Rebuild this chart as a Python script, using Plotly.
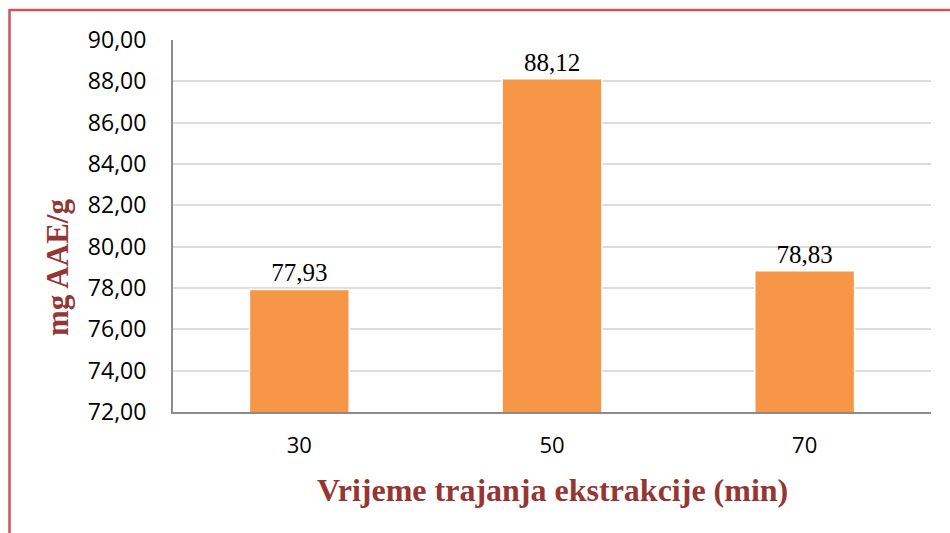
import plotly.graph_objects as go

categories = ["30", "50", "70"]
values = [77.93, 88.12, 78.83]
value_labels = ["77,93", "88,12", "78,83"]
y_ticks = [72, 74, 76, 78, 80, 82, 84, 86, 88, 90]

W, H = 950, 533
# plot area in page pixels
PL, PR, PT, PB = 173, 931, 40, 412
L, R, T, B = PL, W - PR, PT, H - PB
pw, ph = PR - PL, PB - PT

def px_x(x):
    return (x - PL) / pw

def px_y(y):
    return (PB - y) / ph

fig = go.Figure()
fig.add_trace(go.Bar(
    x=categories, y=values,
    marker=dict(color="#F79646", line=dict(color="#FFFFFF", width=1.5)),
    width=0.395,
    text=value_labels, textposition="outside",
    textfont=dict(family="Liberation Serif, Times New Roman, serif", size=25, color="#000000"),
    cliponaxis=False,
))

fig.update_layout(
    width=W, height=H,
    margin=dict(l=L, r=R, t=T, b=B),
    paper_bgcolor="white", plot_bgcolor="white",
    separators=",.",
    showlegend=False,
    xaxis=dict(
        type="category",
        showline=True, linecolor="#8C8C8C", linewidth=2,
        ticks="", showgrid=False,
        tickfont=dict(family="Open Sans, sans-serif", size=22, color="#000000"),
        ticklabelstandoff=13,
    ),
    yaxis=dict(
        range=[72, 90], tickvals=y_ticks, tickformat=".2f",
        showline=True, linecolor="#8C8C8C", linewidth=2,
        showgrid=True, gridcolor="#DCDCDC", gridwidth=1.5,
        ticks="", zeroline=False,
        tickfont=dict(family="Open Sans, sans-serif", size=23, color="#000000"),
        ticklabelstandoff=20,
    ),
    annotations=[
        dict(text="<b>Vrijeme trajanja ekstrakcije (min)</b>", xref="paper", yref="paper",
             x=px_x(552), y=px_y(490), showarrow=False, xanchor="center", yanchor="middle",
             font=dict(family="Liberation Serif, Times New Roman, serif", size=32, color="#943634")),
        dict(text="<b>mg AAE/g</b>", xref="paper", yref="paper", textangle=-90,
             x=px_x(57), y=px_y(268), showarrow=False, xanchor="center", yanchor="middle",
             font=dict(family="Liberation Serif, Times New Roman, serif", size=31, color="#943634")),
    ],
    shapes=[
        dict(type="line", xref="paper", yref="paper", x0=px_x(9), x1=px_x(960),
             y0=px_y(10), y1=px_y(10), line=dict(color="#CD5555", width=2.5)),
        dict(type="line", xref="paper", yref="paper", x0=px_x(9.5), x1=px_x(9.5),
             y0=px_y(9), y1=px_y(545), line=dict(color="#CD5555", width=2.5)),
    ],
)

fig.write_html(
    "out.html",
    config={"displayModeBar": False},
    post_script="document.body.style.margin='0';document.body.style.overflow='hidden';",
)
